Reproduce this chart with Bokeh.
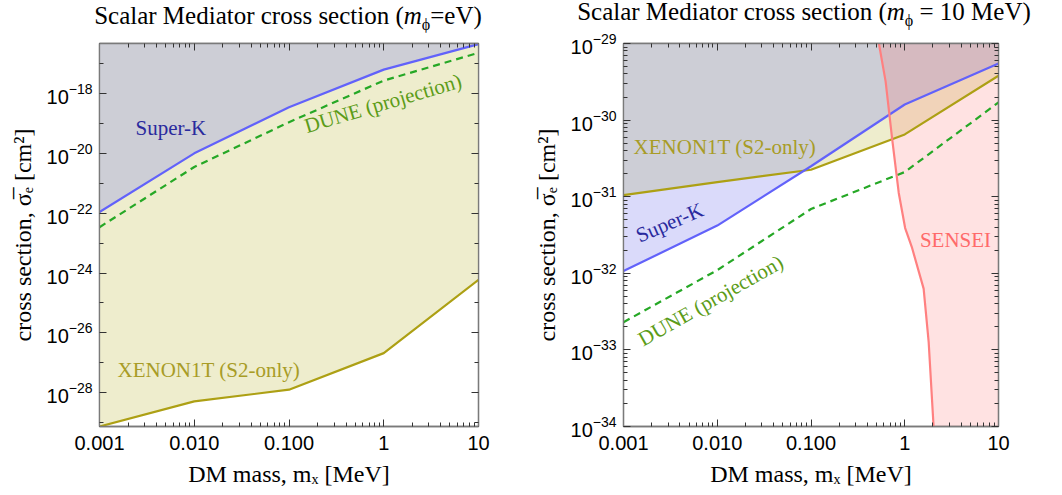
import numpy as np
from bokeh.plotting import figure
from bokeh.layouts import row, column
from bokeh.models import (FixedTicker, LogAxis, Range1d, LogTickFormatter,
                          CustomJSTickFormatter, Div)
from bokeh.embed import file_html
from bokeh.resources import INLINE
from bokeh.core.properties import value

# ---------------- data ----------------
mass = [0.001, 0.01, 0.1, 1.0, 10.0]

# left panel: m_phi = eV
superk_L = [1.1e-22, 1.0e-20, 3.5e-19, 6.3e-18, 4.5e-17]
dune_L = [3.4e-23, 3.5e-21, 1.1e-19, 2.7e-18, 2.3e-17]
xenon_L = [7.4e-30, 5.1e-29, 1.26e-28, 2.1e-27, 5.9e-25]

# right panel: m_phi = 10 MeV
superk_R = [1.07e-32, 4.2e-32, 2.5e-31, 1.6e-30, 5.5e-30]
dune_R = [2.3e-33, 1.1e-32, 6.9e-32, 2.1e-31, 1.7e-30]
xenon_R = [1.05e-31, 1.55e-31, 2.25e-31, 6.5e-31, 3.8e-30]
sensei_mass = [0.53, 0.625, 0.735, 0.863, 1.01, 1.19, 1.59, 1.80, 2.03]
sensei_xs = [1.0e-29, 3.2e-30, 5.6e-31, 1.12e-31, 3.9e-32, 2.2e-32, 6.3e-33, 1.26e-33, 1.0e-34]

x_ticks = [0.001, 0.01, 0.1, 1.0, 10.0]
x_tick_labels = ["0.001", "0.010", "0.100", "1", "10"]
yL_ticks = [1e-28, 1e-26, 1e-24, 1e-22, 1e-20, 1e-18]
yL_minor = [1e-29, 1e-27, 1e-25, 1e-23, 1e-21, 1e-19, 1e-17]
yR_ticks = [1e-34, 1e-33, 1e-32, 1e-31, 1e-30, 1e-29]

yL_range = (7.4e-30, 4.7e-17)
yR_range = (1e-34, 1e-29)

# ---------------- style ----------------
SERIF = "Liberation Serif"
SANS = "Liberation Sans"
GREY = "#CDCED6"
YELLOW = "#EEEDCD"
BLUE_FILL = "#DADAFA"
SK_LINE = "#6262FA"
XE_LINE = "#ADA014"
DUNE_LINE = "#26A826"
SENSEI_LINE = "#FF8080"
FRAME = "#7A7A7A"
TITLE_H = 32


def minor_for(decade_ticks):
    out = []
    for t in decade_ticks:
        for k in range(2, 10):
            out.append(t * k)
    return out


def upper_env(x, a, b):
    lx, la, lb = np.log10(x), np.log10(a), np.log10(b)
    xs, ys = [], []
    for i in range(len(lx)):
        xs.append(lx[i]); ys.append(max(la[i], lb[i]))
        if i < len(lx) - 1:
            d0 = la[i] - lb[i]; d1 = la[i + 1] - lb[i + 1]
            if d0 * d1 < 0:
                t = d0 / (d0 - d1)
                xs.append(lx[i] + t * (lx[i + 1] - lx[i]))
                ys.append(la[i] + t * (la[i + 1] - la[i]))
    return list(10 ** np.array(xs)), list(10 ** np.array(ys))


def style_axis(ax):
    ax.axis_line_color = FRAME
    ax.axis_line_width = 1.3
    ax.major_tick_line_color = "#333333"
    ax.minor_tick_line_color = "#333333"
    ax.major_tick_in = 7
    ax.major_tick_out = 0
    ax.minor_tick_in = 4
    ax.minor_tick_out = 0
    ax.major_label_text_font = SANS
    ax.major_label_text_color = "black"
    ax.axis_label_text_font = SERIF
    ax.axis_label_text_font_style = "normal"
    ax.axis_label_text_font_size = "24px"
    ax.axis_label_text_color = "black"


def title_div(html, width, dx, dy, lh):
    return Div(text=(f'<div style="position:relative; left:{dx}px; top:{dy}px; '
                     f'width:{width}px; text-align:center; white-space:nowrap; '
                     f'font-family:\'{SERIF}\'; font-size:25px; line-height:{lh}px; '
                     f'color:black;">{html}</div>'),
               width=width, height=TITLE_H, margin=0)


def make_fig(yrange, yticks, yminor, width, bl, br, bt, bb):
    p = figure(width=width, height=495 - TITLE_H, x_axis_type="log", y_axis_type="log",
               x_range=Range1d(0.001, 10), y_range=Range1d(*yrange),
               output_backend="svg", toolbar_location=None,
               min_border_left=bl, min_border_right=br,
               min_border_top=bt, min_border_bottom=bb,
               background_fill_color="white", border_fill_color="white", margin=0)
    p.grid.visible = False
    p.outline_line_color = FRAME
    p.outline_line_width = 1.3

    xt = FixedTicker(ticks=x_ticks, minor_ticks=minor_for(x_ticks[:-1]))
    yt = FixedTicker(ticks=yticks, minor_ticks=yminor)
    overrides = dict(zip(x_ticks, x_tick_labels))

    xb = p.xaxis[0]
    yl = p.yaxis[0]
    xb.ticker = xt
    xb.major_label_overrides = overrides
    xb.axis_label = "DM mass, mₓ [MeV]"
    yl.ticker = yt
    yl.formatter = LogTickFormatter()
    yl.axis_label = "cross section, σ̅ₑ [cm²]"
    for ax in (xb, yl):
        style_axis(ax)
        ax.major_label_text_font_size = "20px"
        ax.axis_label_standoff = 8
    xb.major_label_standoff = 9
    yl.major_label_standoff = 7

    blank = CustomJSTickFormatter(code="return ''")
    top = LogAxis(ticker=xt, formatter=blank, major_label_standoff=0)
    right = LogAxis(ticker=yt, formatter=blank, major_label_standoff=0)
    for ax in (top, right):
        style_axis(ax)
        ax.major_label_text_font_size = "1px"
    p.add_layout(top, "above")
    p.add_layout(right, "right")
    return p


# ---------------- left panel ----------------
t1 = title_div("Scalar Mediator cross section (<i>m</i><sub style='font-size:16px'>ϕ</sub>=eV)",
               530, 23, 2, 28)
p1 = make_fig(yL_range, yL_ticks, yL_minor, 530, 99, 52, 43 - TITLE_H, 68)
topL = yL_range[1]
p1.varea(x=mass, y1=xenon_L, y2=[topL] * len(mass), fill_color=YELLOW)
p1.varea(x=mass, y1=superk_L, y2=[topL] * len(mass), fill_color=BLUE_FILL)
ex, ey = upper_env(mass, superk_L, xenon_L)
p1.varea(x=ex, y1=ey, y2=[topL] * len(ex), fill_color=GREY)
p1.line(mass, xenon_L, line_color=XE_LINE, line_width=2.2)
p1.line(mass, superk_L, line_color=SK_LINE, line_width=2.2)
p1.line(mass, dune_L, line_color=DUNE_LINE, line_width=2.2, line_dash="7 5")

p1.text(x=[0.0024], y=[6.8e-20], text=["Super-K"], text_font=value(SERIF),
        text_font_size="21px", text_color="#2A2A9E", text_align="left", text_baseline="middle")
p1.text(x=[0.98], y=[4.7e-19], text=["DUNE (projection)"], text_font=value(SERIF),
        text_font_size="21px", text_color="#5C9C18", text_align="center", text_baseline="middle",
        angle=0.288)
p1.text(x=[0.00155], y=[5.9e-28], text=["XENON1T (S2-only)"], text_font=value(SERIF),
        text_font_size="21px", text_color="#A89C26", text_align="left", text_baseline="middle")

# ---------------- right panel ----------------
t2 = title_div("Scalar Mediator cross section (<i>m</i><sub style='font-size:16px'>ϕ</sub> = 10 MeV)",
               532, 8, 0, 23)
p2 = make_fig(yR_range, yR_ticks, minor_for(yR_ticks[:-1]), 532, 87, 64, 38 - TITLE_H, 69)
topR = yR_range[1]
p2.varea(x=mass, y1=xenon_R, y2=[topR] * len(mass), fill_color=YELLOW)
p2.varea(x=mass, y1=superk_R, y2=[topR] * len(mass), fill_color=BLUE_FILL)
ex, ey = upper_env(mass, superk_R, xenon_R)
p2.varea(x=ex, y1=ey, y2=[topR] * len(ex), fill_color=GREY)
p2.harea(y=sensei_xs, x1=sensei_mass, x2=[10.0] * len(sensei_mass),
         fill_color="#FF6464", fill_alpha=0.19)
p2.line(mass, xenon_R, line_color=XE_LINE, line_width=2.2)
p2.line(mass, superk_R, line_color=SK_LINE, line_width=2.2)
p2.line(mass, dune_R, line_color=DUNE_LINE, line_width=2.2, line_dash="7 5")
p2.line(sensei_mass, sensei_xs, line_color=SENSEI_LINE, line_width=2.2)

p2.text(x=[0.00128], y=[4.5e-31], text=["XENON1T (S2-only)"], text_font=value(SERIF),
        text_font_size="21px", text_color="#A89C26", text_align="left", text_baseline="middle")
p2.text(x=[0.0031], y=[4.6e-32], text=["Super-K"], text_font=value(SERIF),
        text_font_size="21px", text_color="#2A2A9E", text_align="center", text_baseline="middle",
        angle=0.40)
p2.text(x=[0.0085], y=[4.4e-33], text=["DUNE (projection)"], text_font=value(SERIF),
        text_font_size="21px", text_color="#5C9C18", text_align="center", text_baseline="middle",
        angle=0.515)
p2.text(x=[1.45], y=[2.7e-32], text=["SENSEI"], text_font=value(SERIF),
        text_font_size="21px", text_color="#FF6A6A", text_align="left", text_baseline="middle")

layout = column(row(t1, t2, spacing=0), row(p1, p2, spacing=0), spacing=0)
open("out.html", "w").write(file_html(layout, INLINE))
